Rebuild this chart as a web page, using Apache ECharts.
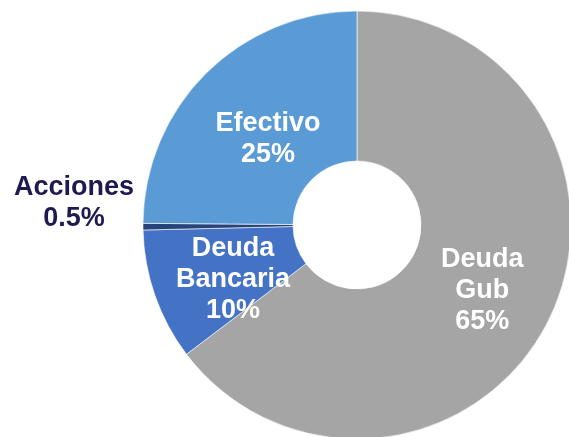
<!DOCTYPE html>
<html><head><meta charset="utf-8">
<script src="https://cdn.jsdelivr.net/npm/echarts@6/dist/echarts.min.js"></script>
<style>html,body{margin:0;padding:0;background:#fff}#c{width:569px;height:437px}</style>
</head><body><div id="c"></div>
<script>
const categories = ['Deuda\nGub', 'Deuda\nBancaria', 'Acciones', 'Efectivo'];
const values = [65, 10, 0.5, 25];
const labelTexts = ['65%', '10%', '0.5%', '25%'];
const colors = ['#A5A5A5', '#4472C4', '#264478', '#5B9BD5'];

const data = categories.map((c, i) => {
  const item = { name: c, value: values[i], itemStyle: { color: colors[i] } };
  if (i === 2) {
    item.label = { position: 'outside', color: '#1E1A4F' };
    item.labelLine = { show: false, length: 3, length2: 3 };
  }
  return item;
});

const labelShift = [[-2, 2], [10, 8], [-58, -24], [11, 15]];

const chart = echarts.init(document.getElementById('c'), null, { renderer: 'canvas' });
chart.setOption({
  animation: false,
  series: [{
    type: 'pie',
    center: [357, 225],
    radius: [64, 214],
    startAngle: 90,
    clockwise: true,
    avoidLabelOverlap: false,
    itemStyle: { borderColor: '#ffffff', borderWidth: 0.6 },
    label: {
      show: true,
      position: 'inside',
      color: '#ffffff',
      fontFamily: 'Liberation Sans, Arial, sans-serif',
      fontWeight: 'bold',
      fontSize: 27,
      lineHeight: 31,
      align: 'center',
      formatter: p => p.name + '\n' + labelTexts[p.dataIndex]
    },
    labelLine: { show: false },
    labelLayout: p => {
      const s = labelShift[p.dataIndex];
      const o = { dx: s[0], dy: s[1] };
      if (p.dataIndex === 2) o.align = 'center';
      return o;
    },
    data: data
  }]
});
</script></body></html>
